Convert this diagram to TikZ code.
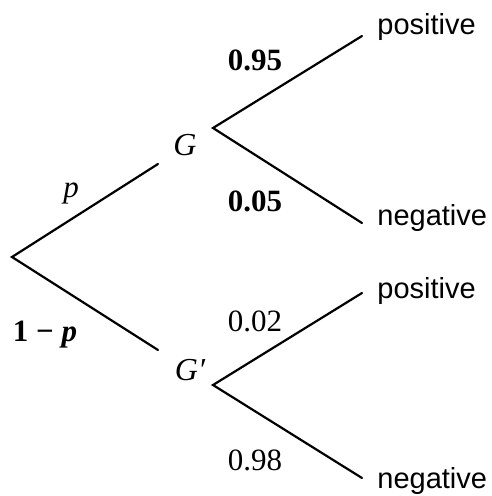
\documentclass[tikz,border=0pt]{standalone}
\usepackage{fontspec}
\setmainfont{Liberation Serif}
\newfontfamily\labelfont{Liberation Sans}
\usetikzlibrary{positioning}
\tikzset{
  branch/.style={line width=1.1pt,line cap=round},
  prob/.style={inner sep=0pt,font=\fontsize{15.5}{18}\selectfont},
  event/.style={inner sep=0pt,font=\fontsize{16}{18}\selectfont\itshape},
  outcome/.style={inner sep=0pt,font=\labelfont\fontsize{14.5}{17}\selectfont}
}
\begin{document}
\begin{tikzpicture}[x=0.5pt,y=-0.5pt]
  \useasboundingbox (0,0) rectangle (491,496);
  % branch points and ends
  \coordinate (root) at (12,257);
  \coordinate (gend) at (158,164);
  \coordinate (gpend) at (158,350);
  \coordinate (g) at (213,128);
  \coordinate (gp) at (213,385);
  \coordinate (pos1) at (362,36);
  \coordinate (neg1) at (362,223);
  \coordinate (pos2) at (362,293);
  \coordinate (neg2) at (362,478);
  % labels
  \node[event] (glab) at (185,145) {G};
  \node[event] (gplab) at (190,370) {G′};
  \node[prob] (pl) at (71,193) {\textit{p}};
  \node[prob] (ql) at (45,335) {\textbf{1 − \textit{p}}};
  \node[prob] (l95) at (255,60) {\textbf{0.95}};
  \node[prob] (l05) at (255,201) {\textbf{0.05}};
  \node[prob] (l02) at (255,321) {0.02};
  \node[prob] (l98) at (255,460) {0.98};
  \node[outcome,anchor=west] (posa) at (377,27) {positive};
  \node[outcome,anchor=west] (nega) at (377,218) {negative};
  \node[outcome,anchor=west] (posb) at (377,291) {positive};
  \node[outcome,anchor=west] (negb) at (377,481) {negative};
  % branches
  \draw[branch] (gend) -- (root) -- (gpend);
  \draw[branch] (pos1) -- (g) -- (neg1);
  \draw[branch] (pos2) -- (gp) -- (neg2);
\end{tikzpicture}
\end{document}
